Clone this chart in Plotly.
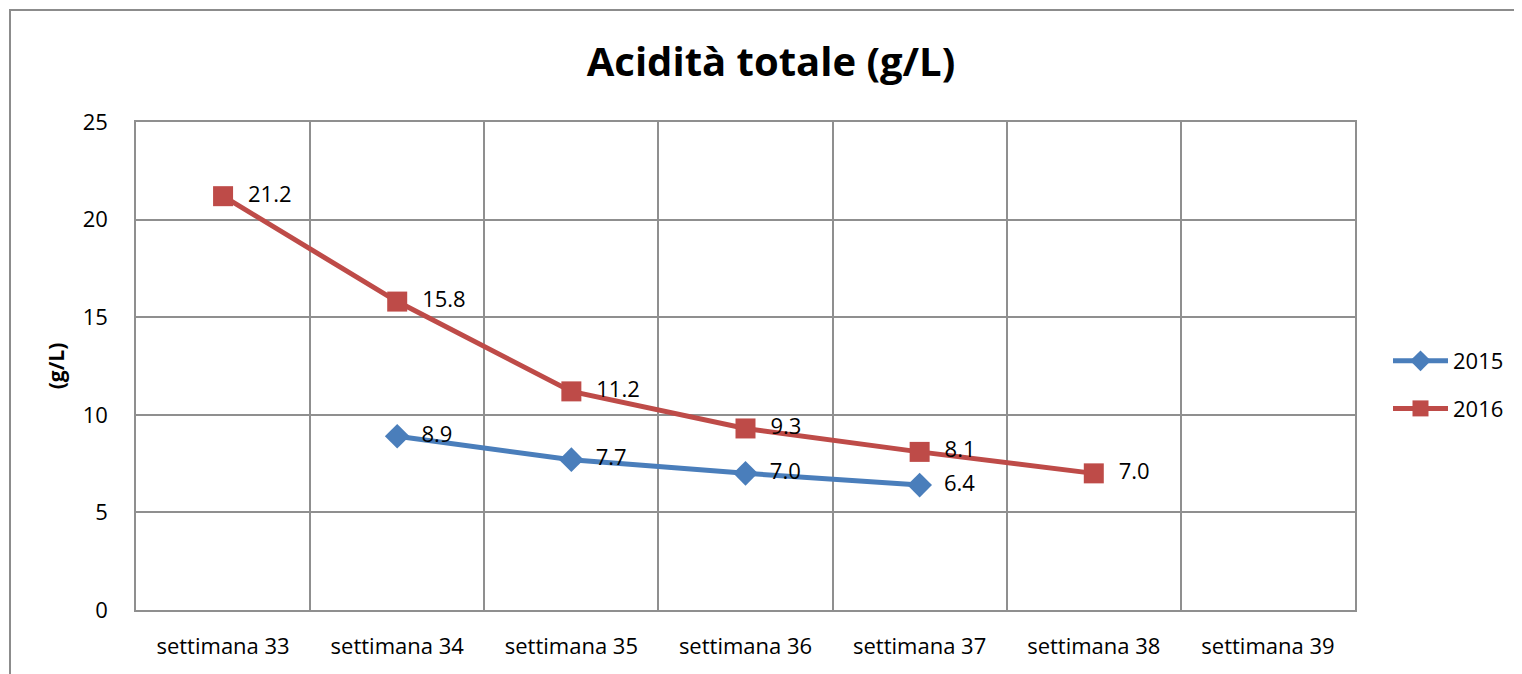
import plotly.graph_objects as go

categories = ["settimana 33", "settimana 34", "settimana 35", "settimana 36",
              "settimana 37", "settimana 38", "settimana 39"]
values_2015 = [None, 8.9, 7.7, 7.0, 6.4, None, None]
values_2016 = [21.2, 15.8, 11.2, 9.3, 8.1, 7.0, None]

FONT = "Open Sans"
OFF = 8  # page body margin
W, H = 1522 - OFF, 674 - OFF
L, R, T, B = 136 - OFF, 1355 - OFF, 122 - OFF, 610 - OFF


def px_x(px):
    return (px - OFF - L) / (R - L)


def px_y(py):
    return (B - (py - OFF)) / (B - T)


def labels(vals):
    return [("  %.1f" % v) if v is not None else "" for v in vals]


fig = go.Figure()
fig.add_trace(go.Scatter(
    x=categories, y=values_2015, name="2015", legendgroup="a",
    mode="lines+markers+text",
    line=dict(color="#4A7EBB", width=5),
    marker=dict(symbol="diamond", size=19, color="#4A7EBB"),
    text=labels(values_2015),
    textposition="middle right",
    textfont=dict(family=FONT, size=22, color="black"),
    cliponaxis=False,
))
fig.add_trace(go.Scatter(
    x=categories, y=values_2016, name="2016", legendgroup="b",
    mode="lines+markers+text",
    line=dict(color="#BE4B48", width=5),
    marker=dict(symbol="square", size=20, color="#BE4B48"),
    text=labels(values_2016),
    textposition="middle right",
    textfont=dict(family=FONT, size=22, color="black"),
    cliponaxis=False,
))

fig.update_layout(
    width=W, height=H,
    margin=dict(l=L, r=W - R, t=T, b=H - B, autoexpand=False),
    paper_bgcolor="white", plot_bgcolor="white",
    font=dict(family=FONT, size=22, color="black"),
    title=dict(text="<b>Acidità totale (g/L)</b>", x=px_x(771), xref="paper",
               xanchor="center", y=1 - (62 - OFF) / H, yanchor="middle",
               font=dict(family=FONT, size=40, color="black")),
    showlegend=True,
    legend=dict(x=px_x(1388), y=px_y(385), xanchor="left", yanchor="middle",
                traceorder="grouped", tracegroupgap=16,
                font=dict(family=FONT, size=22, color="black"),
                bgcolor="rgba(0,0,0,0)", itemwidth=55),
    xaxis=dict(type="category", tickson="boundaries", showgrid=True,
               gridcolor="#8F8F8F", gridwidth=1.5, showline=True, mirror=True,
               linecolor="#8F8F8F", linewidth=1.5, ticks="",
               ticklabelstandoff=16, tickfont=dict(family=FONT, size=22),
               range=[-0.5, 6.5], fixedrange=True),
    yaxis=dict(range=[0, 25], dtick=5, showgrid=True, gridcolor="#8F8F8F",
               gridwidth=1.5, showline=True, mirror=True, linecolor="#8F8F8F",
               linewidth=1.5, zeroline=False, ticks="", ticklabelstandoff=22,
               tickfont=dict(family=FONT, size=22),
               title=dict(text="<b>(g/L)</b>", standoff=12,
                          font=dict(family=FONT, size=21))),
    shapes=[dict(type="rect", xref="paper", yref="paper",
                 x0=px_x(10), x1=px_x(1540), y0=px_y(700), y1=px_y(10),
                 line=dict(color="#8C8C8C", width=2), layer="below")],
)

fig.write_html("out.html")
